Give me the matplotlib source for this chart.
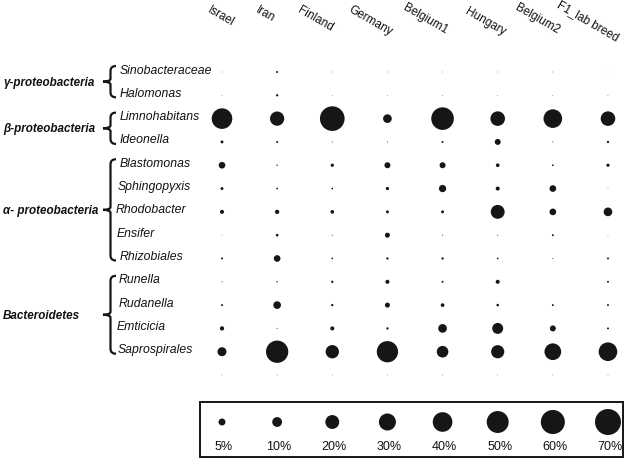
import matplotlib
matplotlib.use("Agg")
import matplotlib.pyplot as plt
from matplotlib.path import Path
from matplotlib.patches import PathPatch, Rectangle

# ---------------- data ----------------
sites = ["Israel", "Iran", "Finland", "Germany", "Belgium1", "Hungary",
         "Belgium2", "F1_lab breed"]
taxa = ["Sinobacteraceae", "Halomonas", "Limnohabitans", "Ideonella",
        "Blastomonas", "Sphingopyxis", "Rhodobacter", "Ensifer", "Rhizobiales",
        "Runella", "Rudanella", "Emticicia", "Saprospirales", ""]
sinobacteraceae = [0.05, 0.4, 0.05, 0.05, 0.05, 0.05, 0.05, 0.05]
halomonas       = [0.05, 0.55, 0.05, 0.05, 0.05, 0.05, 0.05, 0.05]
limnohabitans   = [44, 21, 63, 7.8, 53, 22, 36, 22]
ideonella       = [0.9, 0.4, 0.1, 0.1, 0.4, 3.7, 0.1, 0.55]
blastomonas     = [4.6, 0.2, 1.1, 3.7, 3.7, 1.4, 0.3, 1.1]
sphingopyxis    = [0.9, 0.3, 0.3, 1.1, 5.5, 1.7, 4.6, 0.05]
rhodobacter     = [1.7, 1.9, 1.4, 0.9, 0.9, 20, 4.6, 7.8]
ensifer         = [0.05, 0.75, 0.1, 2.6, 0.1, 0.1, 0.4, 0.05]
rhizobiales     = [0.4, 4.6, 0.3, 0.55, 0.55, 0.3, 0.1, 0.4]
runella         = [0.1, 0.2, 0.55, 1.7, 0.4, 1.7, 0.0, 0.4]
rudanella       = [0.4, 6.1, 0.55, 2.6, 1.4, 0.7, 0.4, 0.4]
emticicia       = [1.9, 0.1, 1.7, 0.55, 7.8, 12.5, 3.7, 0.4]
saprospirales   = [8.4, 51.5, 18.4, 47, 14, 18, 29, 36]
unlabeled       = [0.05, 0.05, 0.05, 0.05, 0.05, 0.05, 0.05, 0.05]
table = [sinobacteraceae, halomonas, limnohabitans, ideonella, blastomonas,
         sphingopyxis, rhodobacter, ensifer, rhizobiales, runella, rudanella,
         emticicia, saprospirales, unlabeled]

groups = ["γ-proteobacteria", "β-proteobacteria", "α- proteobacteria", "Bacteroidetes"]
group_rows = [(0, 1), (2, 3), (4, 8), (9, 12)]

legend_pcts = [5, 10, 20, 30, 40, 50, 60, 70]
legend_labels = ["5%", "10%", "20%", "30%", "40%", "50%", "60%", "70%"]

# ---------------- layout ----------------
plt.rcParams['font.family'] = ['Liberation Sans', 'DejaVu Sans']
INK = "#161616"
SIZE_PER_PCT = 5.0   # marker area (pt^2) per percent

fig = plt.figure(figsize=(6.25, 4.6), dpi=100)
ax = fig.add_axes([0, 0, 1, 1])
X0, DX = 222.0, 55.14
Y0, DY = 73.0, 23.31

def px2x(px):
    return (px - X0) / DX

def py2y(py):
    return (py - Y0) / DY

ax.set_xlim(px2x(0), px2x(625))
ax.set_ylim(py2y(460), py2y(0))
ax.axis('off')

# bubbles
xs, ys, ss = [], [], []
for r, row in enumerate(table):
    for c, v in enumerate(row):
        xs.append(c)
        ys.append(r)
        ss.append(v * SIZE_PER_PCT)
ax.scatter(xs, ys, s=ss, color=INK, linewidths=0, zorder=3)

# column labels
col_label_px = [211, 259, 301, 352, 407, 469, 519, 561]
col_label_py = [4, 4, 4, 4, 2, 6, 2, -1]
for c, name in enumerate(sites):
    ax.text(px2x(col_label_px[c]), py2y(col_label_py[c]), name, rotation=-30,
            rotation_mode='anchor', ha='left', va='top', fontsize=8.5,
            color="#111111")

# row labels
row_label_px = [120, 120, 120, 120, 120, 118, 116, 117, 120, 119, 119, 117, 118, 118]
for r, name in enumerate(taxa):
    if name:
        ax.text(px2x(row_label_px[r]), r - 2.5 / DY, name, ha='left', va='center',
                fontsize=8.8, style='italic', color="#111111")

# group braces and labels
def brace(top, bot, mid):
    xv, xa, xt = 110.5, 116, 103
    pts = [(xa, top), (xv, top), (xv, top + 5), (xv, mid - 3), (xv, mid),
           (xt, mid), (xv, mid), (xv, mid + 3), (xv, bot - 5), (xv, bot), (xa, bot)]
    codes = [Path.MOVETO, Path.CURVE3, Path.CURVE3, Path.LINETO, Path.CURVE3,
             Path.CURVE3, Path.CURVE3, Path.CURVE3, Path.LINETO, Path.CURVE3, Path.CURVE3]
    verts = [(px2x(a), py2y(b)) for a, b in pts]
    ax.add_patch(PathPatch(Path(verts, codes), fill=False, edgecolor=INK,
                           linewidth=1.6, clip_on=False, capstyle='butt'))

for g, (r0, r1) in zip(groups, group_rows):
    top = Y0 + DY * r0 - 6
    bot = Y0 + DY * r1 + 2
    mid = (top + bot) / 2
    brace(top, bot, mid)
    ax.text(px2x(3), py2y(mid), g, ha='left', va='center', fontsize=8.4,
            weight='bold', style='italic', color="#111111")

# legend
leg_y = py2y(423)
ax.scatter(range(len(legend_pcts)), [leg_y] * len(legend_pcts),
           s=[p * SIZE_PER_PCT for p in legend_pcts], color=INK, linewidths=0,
           zorder=3, clip_on=False)
for i, lab in enumerate(legend_labels):
    ax.text(i + 2.0 / DX, py2y(447), lab, ha='center', va='center', fontsize=9,
            color="#111111")
ax.add_patch(Rectangle((px2x(200), py2y(403)), (623 - 200) / DX, (458 - 403) / DY,
                       fill=False, edgecolor=INK, linewidth=1.4, clip_on=False))

fig.savefig("out.png", dpi=100)
